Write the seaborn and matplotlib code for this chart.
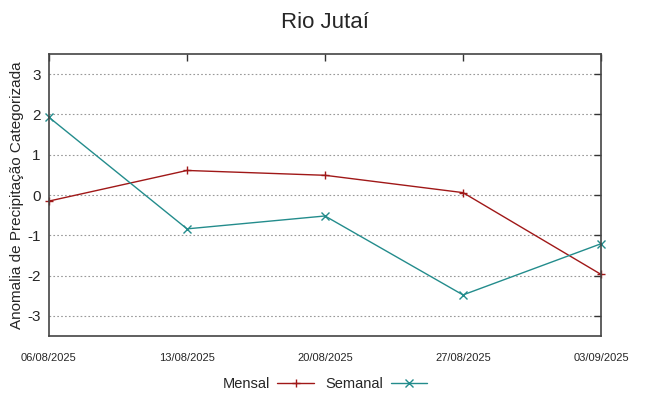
import matplotlib
matplotlib.use('Agg')
import matplotlib.pyplot as plt
import seaborn as sns
import pandas as pd

dates = ['06/08/2025', '13/08/2025', '20/08/2025', '27/08/2025', '03/09/2025']
mensal = [-0.15, 0.61, 0.49, 0.06, -1.97]
semanal = [1.93, -0.84, -0.52, -2.48, -1.21]
yticks = [-3, -2, -1, 0, 1, 2, 3]

sns.set_style('white')
plt.rcParams['font.family'] = ['Liberation Sans', 'DejaVu Sans']

df = pd.DataFrame({
    'pos': list(range(len(dates))) * 2,
    'valor': mensal + semanal,
    'serie': ['Mensal'] * len(dates) + ['Semanal'] * len(dates),
})

fig = plt.figure(figsize=(6.49, 3.96), dpi=100)
ax = fig.add_axes([0.0755, 0.1515, 0.8505, 0.712])

colors = {'Mensal': '#a01818', 'Semanal': '#238c8c'}
markers = {'Mensal': '+', 'Semanal': 'x'}
for name in ['Mensal', 'Semanal']:
    sns.lineplot(data=df[df['serie'] == name], x='pos', y='valor',
                 color=colors[name], marker=markers[name], markersize=6,
                 markeredgewidth=1, markeredgecolor=colors[name],
                 linewidth=1, label=name, ax=ax, clip_on=False)

ax.set_xlim(0, len(dates) - 1)
ax.set_ylim(-3.5, 3.5)
ax.set_xticks(range(len(dates)))
ax.set_xticklabels(dates, fontsize=8)
ax.set_yticks(yticks)
ax.set_yticklabels([str(v) for v in yticks], fontsize=11)
ax.yaxis.grid(True, linestyle=(0, (1.5, 2)), color='#999999', linewidth=0.8)
ax.xaxis.grid(False)
ax.tick_params(direction='in', length=5, width=1, top=True, right=True,
               color='#333333')
ax.tick_params(axis='x', pad=12)
ax.tick_params(axis='y', pad=6)
for s in ax.spines.values():
    s.set_color('#444444')
    s.set_linewidth(1.2)

ax.set_xlabel('')
ax.set_ylabel('Anomalia de Precipitação Categorizada', fontsize=11)
ax.yaxis.set_label_coords(-0.046, 0.5)
fig.suptitle('Rio Jutaí', fontsize=16, y=0.97)

ax.legend(loc='upper center', bbox_to_anchor=(0.5, -0.1), ncol=2,
          frameon=False, markerfirst=False, fontsize=10.5, handlelength=2.5,
          columnspacing=0.8, handletextpad=0.5)

fig.savefig('out.png', dpi=100)
